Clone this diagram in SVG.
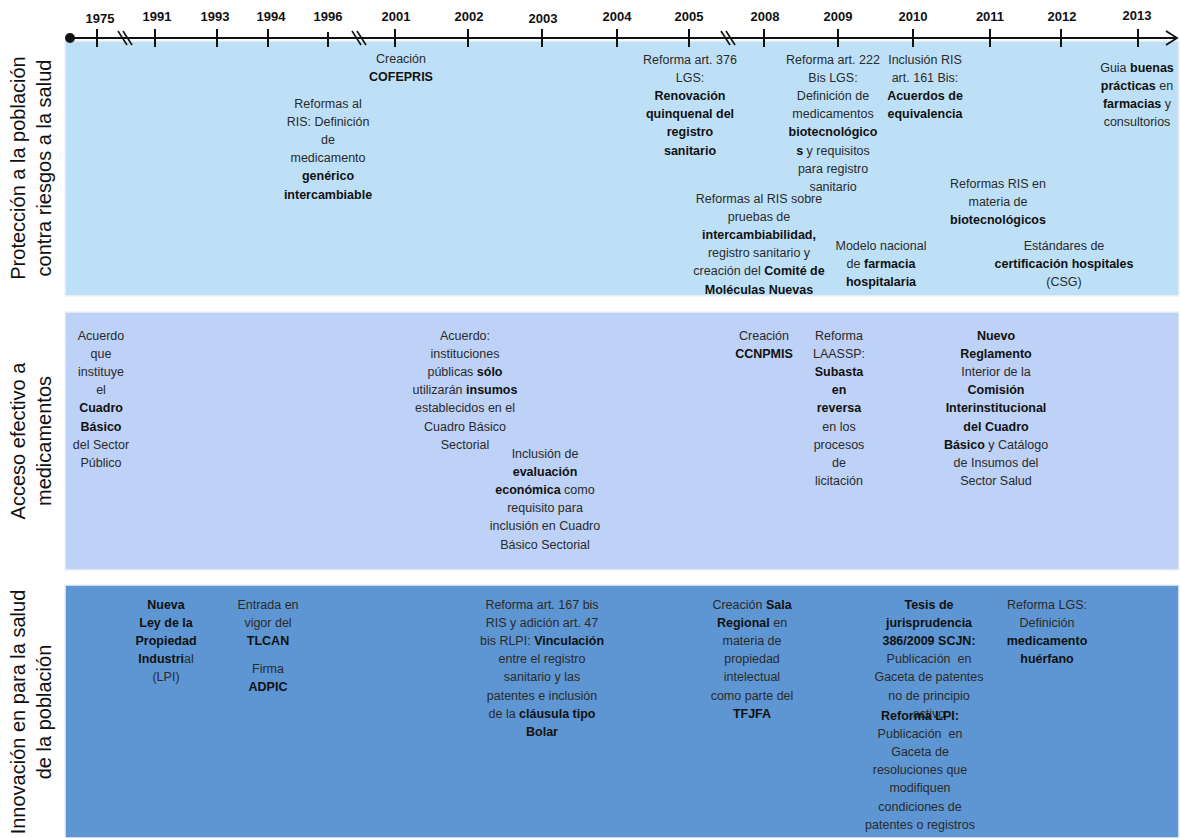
<svg xmlns="http://www.w3.org/2000/svg" width="1180" height="838" viewBox="0 0 1180 838">
<style>
.t{font-family:"Liberation Sans",Arial,sans-serif;font-size:12.5px;fill:#2a2a2a;text-anchor:middle}
.b{font-weight:bold;fill:#111}
.yr{font-family:"Liberation Sans",Arial,sans-serif;font-size:13px;font-weight:bold;fill:#111;text-anchor:middle}
.lab{font-family:"Liberation Sans",Arial,sans-serif;font-size:20px;fill:#111;text-anchor:middle}
.tick{stroke:#111;stroke-width:2}
.brk{stroke:#111;stroke-width:1.6}
.band{stroke:#eef2f7;stroke-width:1.5}
</style>
<rect width="1180" height="838" fill="#ffffff"/>
<g id="bands">
<rect class="band" x="65" y="41" width="1114" height="255" fill="#bee0f7"/>
<rect class="band" x="65" y="312" width="1114" height="258" fill="#bed1f6"/>
<rect class="band" x="65" y="585" width="1114" height="253" fill="#5e96d3"/>
</g>
<g id="timeline">
<line x1="70" y1="38" x2="1177" y2="38" stroke="#111" stroke-width="1.8"/>
<circle cx="70" cy="38" r="5" fill="#111"/>
<polyline points="1166,31 1177,38 1166,45" fill="none" stroke="#111" stroke-width="1.8"/>
<line class="tick" x1="97" y1="29" x2="97" y2="47"/>
<line class="tick" x1="155" y1="29" x2="155" y2="47"/>
<line class="tick" x1="217" y1="29" x2="217" y2="47"/>
<line class="tick" x1="268" y1="29" x2="268" y2="47"/>
<line class="tick" x1="328" y1="32" x2="328" y2="47"/>
<line class="tick" x1="395" y1="29" x2="395" y2="47"/>
<line class="tick" x1="468" y1="29" x2="468" y2="47"/>
<line class="tick" x1="542" y1="29" x2="542" y2="47"/>
<line class="tick" x1="617" y1="29" x2="617" y2="47"/>
<line class="tick" x1="689" y1="29" x2="689" y2="47"/>
<line class="tick" x1="764" y1="29" x2="764" y2="47"/>
<line class="tick" x1="838" y1="29" x2="838" y2="47"/>
<line class="tick" x1="913" y1="29" x2="913" y2="47"/>
<line class="tick" x1="990" y1="29" x2="990" y2="47"/>
<line class="tick" x1="1061" y1="29" x2="1061" y2="47"/>
<line class="tick" x1="1138" y1="29" x2="1138" y2="47"/>
<line class="brk" x1="118" y1="31" x2="127" y2="45"/>
<line class="brk" x1="123" y1="31" x2="132" y2="45"/>
<line class="brk" x1="352" y1="31" x2="361" y2="45"/>
<line class="brk" x1="357" y1="31" x2="366" y2="45"/>
<line class="brk" x1="721" y1="31" x2="730" y2="45"/>
<line class="brk" x1="726" y1="31" x2="735" y2="45"/>
<text class="yr" x="100" y="23">1975</text>
<text class="yr" x="157" y="21">1991</text>
<text class="yr" x="215" y="21">1993</text>
<text class="yr" x="271" y="21">1994</text>
<text class="yr" x="328" y="21">1996</text>
<text class="yr" x="396" y="21">2001</text>
<text class="yr" x="469" y="21">2002</text>
<text class="yr" x="543" y="23">2003</text>
<text class="yr" x="617" y="21">2004</text>
<text class="yr" x="689" y="21">2005</text>
<text class="yr" x="765" y="21">2008</text>
<text class="yr" x="838" y="21">2009</text>
<text class="yr" x="913" y="21">2010</text>
<text class="yr" x="990" y="21">2011</text>
<text class="yr" x="1062" y="21">2012</text>
<text class="yr" x="1137" y="20">2013</text>
</g>
<g id="labels">
<text class="lab" transform="translate(25,168) rotate(-90)">Protección a la población</text>
<text class="lab" transform="translate(51,168) rotate(-90)">contra riesgos a la salud</text>
<text class="lab" transform="translate(25,441) rotate(-90)">Acceso efectivo a</text>
<text class="lab" transform="translate(51,441) rotate(-90)">medicamentos</text>
<text class="lab" transform="translate(25,712) rotate(-90)">Innovación en para la salud</text>
<text class="lab" transform="translate(51,712) rotate(-90)">de la población</text>
</g>
<g id="n-cofepris">
<text class="t" x="401" y="62.5">Creación</text>
<text class="t b" x="401" y="81">COFEPRIS</text>
</g>
<g id="n-ris-generico">
<text class="t" x="328" y="107.5">Reformas al</text>
<text class="t" x="328" y="125.7">RIS: Definición</text>
<text class="t" x="328" y="143.9">de</text>
<text class="t" x="328" y="162.1">medicamento</text>
<text class="t b" x="328" y="180.3">genérico</text>
<text class="t b" x="328" y="198.5">intercambiable</text>
</g>
<g id="n-art376">
<text class="t" x="690" y="63.5">Reforma art. 376</text>
<text class="t" x="690" y="81.7">LGS:</text>
<text class="t b" x="690" y="99.9">Renovación</text>
<text class="t b" x="690" y="118.1">quinquenal del</text>
<text class="t b" x="690" y="136.3">registro</text>
<text class="t b" x="690" y="154.5">sanitario</text>
</g>
<g id="n-art222">
<text class="t" x="833" y="63.5">Reforma art. 222</text>
<text class="t" x="833" y="81.7">Bis LGS:</text>
<text class="t" x="833" y="99.9">Definición de</text>
<text class="t" x="833" y="118.1">medicamentos</text>
<text class="t b" x="833" y="136.3">biotecnológico</text>
<text class="t" x="833" y="154.5"><tspan class="b">s</tspan> y requisitos</text>
<text class="t" x="833" y="172.7">para registro</text>
<text class="t" x="833" y="190.9">sanitario</text>
</g>
<g id="n-art161">
<text class="t" x="925" y="63.5">Inclusión RIS</text>
<text class="t" x="925" y="81.7">art. 161 Bis:</text>
<text class="t b" x="925" y="99.9">Acuerdos de</text>
<text class="t b" x="925" y="118.1">equivalencia</text>
</g>
<g id="n-guia">
<text class="t" x="1137" y="71.5">Guia <tspan class="b">buenas</tspan></text>
<text class="t" x="1137" y="89.7"><tspan class="b">prácticas</tspan> en</text>
<text class="t" x="1137" y="107.9"><tspan class="b">farmacias</tspan> y</text>
<text class="t" x="1137" y="126.1">consultorios</text>
</g>
<g id="n-intercambiabilidad">
<text class="t" x="759" y="202.5">Reformas al RIS sobre</text>
<text class="t" x="759" y="220.7">pruebas de</text>
<text class="t b" x="759" y="238.9">intercambiabilidad,</text>
<text class="t" x="759" y="257.1">registro sanitario y</text>
<text class="t" x="759" y="275.3">creación del <tspan class="b">Comité de</tspan></text>
<text class="t b" x="759" y="293.5">Moléculas Nuevas</text>
</g>
<g id="n-farmacia">
<text class="t" x="881" y="249.5">Modelo nacional</text>
<text class="t" x="881" y="267.7">de <tspan class="b">farmacia</tspan></text>
<text class="t b" x="881" y="285.9">hospitalaria</text>
</g>
<g id="n-biotec">
<text class="t" x="998" y="187.5">Reformas RIS en</text>
<text class="t" x="998" y="205.7">materia de</text>
<text class="t b" x="998" y="223.9">biotecnológicos</text>
</g>
<g id="n-csg">
<text class="t" x="1064" y="249.5">Estándares de</text>
<text class="t b" x="1064" y="267.7">certificación hospitales</text>
<text class="t" x="1064" y="285.9">(CSG)</text>
</g>
<g id="n-cuadro">
<text class="t" x="101" y="339.5">Acuerdo</text>
<text class="t" x="101" y="357.7">que</text>
<text class="t" x="101" y="375.9">instituye</text>
<text class="t" x="101" y="394.1">el</text>
<text class="t b" x="101" y="412.3">Cuadro</text>
<text class="t b" x="101" y="430.5">Básico</text>
<text class="t" x="101" y="448.7">del Sector</text>
<text class="t" x="101" y="466.9">Público</text>
</g>
<g id="n-insumos">
<text class="t" x="465" y="339.5">Acuerdo:</text>
<text class="t" x="465" y="357.7">instituciones</text>
<text class="t" x="465" y="375.9">públicas <tspan class="b">sólo</tspan></text>
<text class="t" x="465" y="394.1">utilizarán <tspan class="b">insumos</tspan></text>
<text class="t" x="465" y="412.3">establecidos en el</text>
<text class="t" x="465" y="430.5">Cuadro Básico</text>
<text class="t" x="465" y="448.7">Sectorial</text>
</g>
<g id="n-evaluacion">
<text class="t" x="545" y="457.5">Inclusión de</text>
<text class="t b" x="545" y="475.7">evaluación</text>
<text class="t" x="545" y="493.9"><tspan class="b">económica</tspan> como</text>
<text class="t" x="545" y="512.1">requisito para</text>
<text class="t" x="545" y="530.3">inclusión en Cuadro</text>
<text class="t" x="545" y="548.5">Básico Sectorial</text>
</g>
<g id="n-ccnpmis">
<text class="t" x="764" y="339.5">Creación</text>
<text class="t b" x="764" y="357.7">CCNPMIS</text>
</g>
<g id="n-laassp">
<text class="t" x="839" y="339.5">Reforma</text>
<text class="t" x="839" y="357.7">LAASSP:</text>
<text class="t b" x="839" y="375.9">Subasta</text>
<text class="t b" x="839" y="394.1">en</text>
<text class="t b" x="839" y="412.3">reversa</text>
<text class="t" x="839" y="430.5">en los</text>
<text class="t" x="839" y="448.7">procesos</text>
<text class="t" x="839" y="466.9">de</text>
<text class="t" x="839" y="485.1">licitación</text>
</g>
<g id="n-reglamento">
<text class="t b" x="996" y="339.5">Nuevo</text>
<text class="t b" x="996" y="357.7">Reglamento</text>
<text class="t" x="996" y="375.9">Interior de la</text>
<text class="t b" x="996" y="394.1">Comisión</text>
<text class="t b" x="996" y="412.3">Interinstitucional</text>
<text class="t b" x="996" y="430.5">del Cuadro</text>
<text class="t" x="996" y="448.7"><tspan class="b">Básico</tspan> y Catálogo</text>
<text class="t" x="996" y="466.9">de Insumos del</text>
<text class="t" x="996" y="485.1">Sector Salud</text>
</g>
<g id="n-lpi">
<text class="t b" x="166" y="608.5">Nueva</text>
<text class="t b" x="166" y="626.7">Ley de la</text>
<text class="t b" x="166" y="644.9">Propiedad</text>
<text class="t" x="166" y="663.1"><tspan class="b">Industri</tspan>al</text>
<text class="t" x="166" y="681.3">(LPI)</text>
</g>
<g id="n-tlcan">
<text class="t" x="268" y="608.5">Entrada en</text>
<text class="t" x="268" y="626.7">vigor del</text>
<text class="t b" x="268" y="644.9">TLCAN</text>
<text class="t" x="268" y="672.5">Firma</text>
<text class="t b" x="268" y="690.7">ADPIC</text>
</g>
<g id="n-bolar">
<text class="t" x="542" y="608.5">Reforma art. 167 bis</text>
<text class="t" x="542" y="626.7">RIS  y adición art. 47</text>
<text class="t" x="542" y="644.9">bis RLPI: <tspan class="b">Vinculación</tspan></text>
<text class="t" x="542" y="663.1">entre el registro</text>
<text class="t" x="542" y="681.3">sanitario y las</text>
<text class="t" x="542" y="699.5">patentes e inclusión</text>
<text class="t" x="542" y="717.7">de la <tspan class="b">cláusula tipo</tspan></text>
<text class="t b" x="542" y="735.9">Bolar</text>
</g>
<g id="n-sala">
<text class="t" x="752" y="608.5">Creación <tspan class="b">Sala</tspan></text>
<text class="t" x="752" y="626.7"><tspan class="b">Regional</tspan> en</text>
<text class="t" x="752" y="644.9">materia de</text>
<text class="t" x="752" y="663.1">propiedad</text>
<text class="t" x="752" y="681.3">intelectual</text>
<text class="t" x="752" y="699.5">como parte del</text>
<text class="t b" x="752" y="717.7">TFJFA</text>
</g>
<g id="n-tesis">
<text class="t b" x="929" y="608.5">Tesis de</text>
<text class="t b" x="929" y="626.7">jurisprudencia</text>
<text class="t b" x="929" y="644.9">386/2009 SCJN:</text>
<text class="t" x="929" y="663.1">Publicación&#160; en</text>
<text class="t" x="929" y="681.3">Gaceta de patentes</text>
<text class="t" x="929" y="699.5">no de principio</text>
<text class="t" x="929" y="717.7">activo</text>
</g>
<g id="n-reforma-lpi">
<text class="t b" x="920" y="719.5">Reforma LPI:</text>
<text class="t" x="920" y="737.7">Publicación&#160; en</text>
<text class="t" x="920" y="755.9">Gaceta de</text>
<text class="t" x="920" y="774.1">resoluciones que</text>
<text class="t" x="920" y="792.3">modifiquen</text>
<text class="t" x="920" y="810.5">condiciones de</text>
<text class="t" x="920" y="828.7">patentes o registros</text>
</g>
<g id="n-huerfano">
<text class="t" x="1047" y="608.5">Reforma LGS:</text>
<text class="t" x="1047" y="626.7">Definición</text>
<text class="t b" x="1047" y="644.9">medicamento</text>
<text class="t b" x="1047" y="663.1">huérfano</text>
</g>
</svg>
